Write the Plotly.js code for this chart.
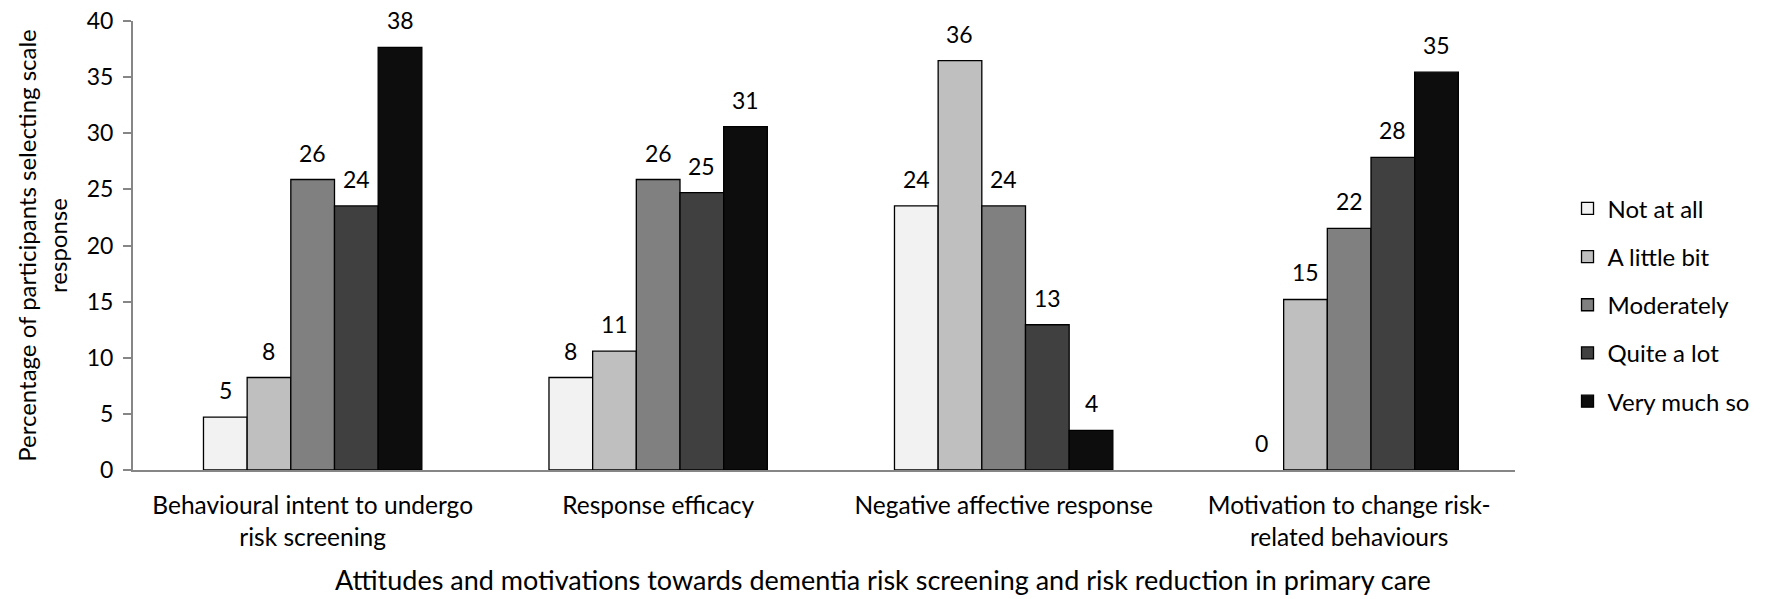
<!DOCTYPE html>
<html>
<head>
<meta charset="utf-8">
<script src="https://cdn.plot.ly/plotly-3.0.1.min.js"></script>
<style>html,body{margin:0;padding:0;background:#fff;}#chart{width:1766px;height:599px;}</style>
</head>
<body>
<div id="chart"></div>
<script>
var categories = [
  "Behavioural intent to undergo<br>risk screening",
  "Response efficacy",
  "Negative affective response",
  "Motivation to change risk-<br>related behaviours"
];
var seriesNames = ["Not at all", "A little bit", "Moderately", "Quite a lot", "Very much so"];
var notAtAll   = [4.71, 8.24, 23.53, 0];
var littleBit  = [8.24, 10.59, 36.47, 15.19];
var moderately = [25.88, 25.88, 23.53, 21.52];
var quiteALot  = [23.53, 24.71, 12.94, 27.85];
var veryMuch   = [37.65, 30.59, 3.53, 35.44];
var yTicks = [0, 5, 10, 15, 20, 25, 30, 35, 40];
var xTitle = "Attitudes and motivations towards dementia risk screening and risk reduction in primary care";
var yTitle = "Percentage of participants selecting scale<br>response";

var seriesValues = [notAtAll, littleBit, moderately, quiteALot, veryMuch];
var colors = ["#F2F2F2", "#BFBFBF", "#808080", "#404040", "#0D0D0D"];
var FONT = "Lato, 'Open Sans', sans-serif";

var W = 1766, H = 599;
var M = {l: 133, r: 251, t: 21, b: 129};
var bargap = 0.368;
var shiftCat = -0.02;
var plotW = W - M.l - M.r;
var catPx = plotW / 4;
var barPx = catPx * (1 - bargap) / seriesValues.length;

var traces = seriesValues.map(function (vals, j) {
  return {
    type: "bar",
    name: seriesNames[j],
    x: categories,
    y: vals,
    legendgroup: "g" + j,
    marker: {
      color: colors[j],
      line: {color: "#000000", width: vals.map(function (v) { return v === 0 ? 0 : 1.3; })}
    },
    hoverinfo: "y"
  };
});

var annotations = [];
seriesValues.forEach(function (vals, j) {
  vals.forEach(function (v, i) {
    annotations.push({
      x: categories[i], y: v, xref: "x", yref: "y",
      text: String(Math.round(v)),
      showarrow: false, yanchor: "bottom", xanchor: "center",
      xshift: (j - (seriesValues.length - 1) / 2) * barPx,
      yshift: 11,
      font: {family: FONT, size: 23, color: "#000"}
    });
  });
});
annotations.push({
  x: (W / 2 - M.l) / plotW, xref: "paper",
  y: -0.284, yref: "paper", yanchor: "bottom", xanchor: "center",
  text: xTitle, showarrow: false,
  font: {family: FONT, size: 27, color: "#000"}
});

var layout = {
  width: W, height: H,
  margin: M,
  paper_bgcolor: "#fff", plot_bgcolor: "#fff",
  font: {family: FONT, size: 23, color: "#000"},
  barmode: "group", bargap: bargap, bargroupgap: 0,
  showlegend: true,
  legend: {
    x: 1.038, xanchor: "left", y: 0.632, yanchor: "top",
    font: {family: FONT, size: 24, color: "#000"},
    tracegroupgap: 14, traceorder: "grouped",
    bgcolor: "rgba(0,0,0,0)"
  },
  xaxis: {
    type: "category",
    range: [-0.5 + shiftCat, 3.5 + shiftCat],
    showline: true, linecolor: "#868686", linewidth: 2,
    ticks: "", showgrid: false, zeroline: false,
    tickfont: {family: FONT, size: 24.5, color: "#000"},
    ticklabelstandoff: 13,
    automargin: false, fixedrange: true
  },
  yaxis: {
    range: [0, 40], tickvals: yTicks,
    showline: true, linecolor: "#868686", linewidth: 2,
    ticks: "outside", ticklen: 8, tickcolor: "#868686", tickwidth: 2,
    showgrid: false, zeroline: false,
    tickfont: {family: FONT, size: 23, color: "#000"},
    ticklabelstandoff: 5,
    title: {text: yTitle, font: {family: FONT, size: 24, color: "#000"}, standoff: 12},
    automargin: false, fixedrange: true
  },
  annotations: annotations
};

Plotly.newPlot("chart", traces, layout, {displayModeBar: false, staticPlot: true});
</script>
</body>
</html>
